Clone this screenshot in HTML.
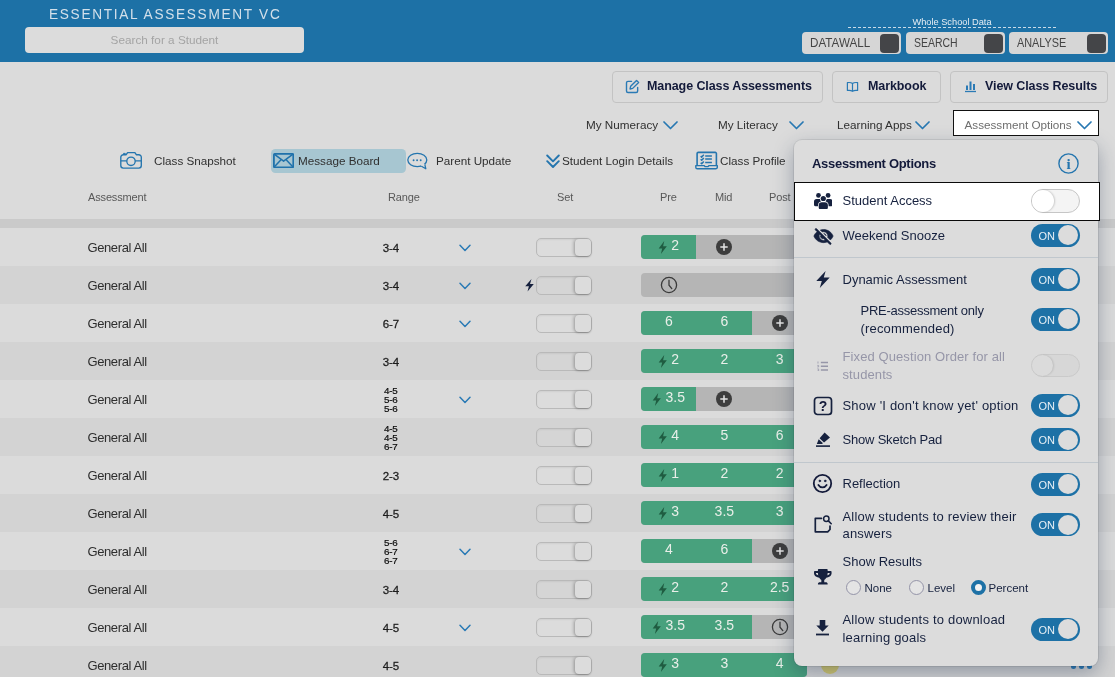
<!DOCTYPE html>
<html lang="en">
<head>
<meta charset="utf-8">
<title>Essential Assessment VC</title>
<style>
*{box-sizing:border-box}
html,body{margin:0;padding:0}
body{width:1115px;height:677px;overflow:hidden;position:relative;background:#dbdbdb;font-family:"Liberation Sans",Arial,sans-serif;color:#222}
.abs{position:absolute}
#hdr{position:absolute;left:0;top:0;width:1115px;height:62px;background:#1d71a6}
#title{position:absolute;left:48.500px;top:4px;font-size:15.400px;letter-spacing:1.900px;transform:scaleX(.888);transform-origin:0 50%;color:#d3e0ea;white-space:nowrap;line-height:20px;font-weight:400}
#search{position:absolute;left:25px;top:27px;width:279px;height:26px;background:#dcdcdc;border-radius:4px;text-align:center;font-size:11.750px;line-height:26px;color:#a4a4a4}
#wsd{position:absolute;left:848px;top:15px;width:208px;height:13px;border-bottom:1px dashed #c9dbe8;text-align:center;font-size:9.250px;line-height:15px;color:#e6eef4}
.hb{position:absolute;top:32px;height:22px;width:99px;background:#d6d6d6;border-radius:4px;font-size:12px;line-height:22px;color:#444;padding-left:7.700px}
.hb span{display:inline-block;transform:scaleX(.885);transform-origin:0 50%}
.hb i{position:absolute;right:2px;top:1.500px;width:19.200px;height:19px;background:#444548;border-radius:4px}
.btn{position:absolute;top:71px;height:32px;border:1px solid #c3c3c3;border-radius:4px;background:transparent;font-size:12.500px;letter-spacing:-.09px;font-weight:bold;color:#131a3a;line-height:29.500px;white-space:nowrap}
.btn svg{position:absolute;top:7px}
.btn span{position:absolute;top:0}
.nav{position:absolute;font-size:11.700px;color:#303030;white-space:nowrap;line-height:14px}
.navc{position:absolute;width:15px;height:9px}
#aobox{position:absolute;left:953px;top:110px;width:146px;height:26px;border:1px solid #111;background:#fff;z-index:5}
.th{position:absolute;top:190px;font-size:11px;letter-spacing:-.15px;color:#585858;line-height:14px;white-space:nowrap}
#band{position:absolute;left:0;top:219px;width:1115px;height:9px;background:#cacaca}
.row{position:absolute;left:0;width:1115px;height:38px;background:#dbdbdb}
.row.alt{background:#d3d3d3}
.aname{position:absolute;left:87.500px;top:12px;font-size:13px;letter-spacing:-.4px;line-height:15px;color:#2e2e2e;white-space:nowrap}
.rng{position:absolute;left:371px;width:40px;text-align:center;top:13px;font-size:11.500px;-webkit-text-stroke:.27px #1c1c1c;letter-spacing:-.1px;line-height:14px;color:#1c1c1c}
.rng3{position:absolute;left:370.800px;width:40px;text-align:center;top:5.600px;font-size:9.800px;letter-spacing:-.2px;-webkit-text-stroke:.2px #0c0c0c;line-height:9.100px;color:#0c0c0c}
.chev{position:absolute;left:458.700px;top:15.600px;width:12px;height:8px}
.tbolt{position:absolute;left:525px;top:13px;width:9px;height:12.500px;fill:#16213e}
.tog{position:absolute;left:536px;top:10px;width:56px;height:19px;border:1px solid #b9b9b9;border-radius:5px;background:rgba(255,255,255,.05);box-shadow:inset 0 1px 2px rgba(0,0,0,.06)}
.tog i{position:absolute;right:0;top:0;width:16.500px;height:17px;border-radius:4px;background:#dcdcdc;box-shadow:-1.500px 0 3px rgba(0,0,0,.17),0 1px 2px rgba(0,0,0,.22)}
.bar{position:absolute;left:641px;top:7px;width:166px;height:24px;border-radius:4px;background:#b5b5b5;overflow:hidden;display:flex}
.cell{height:24px;position:relative;display:flex;align-items:center;justify-content:center;flex:1 1 0;padding-left:.7px}
.cell.g{background:#48a17d}
.cell b{font-weight:normal;font-size:14px;color:#e9efe9;line-height:24px;position:relative;top:-2.300px}
.bolt{width:9.500px;height:13px;fill:#1f5c41;margin-right:4px;margin-left:-1px;position:relative;top:0}
.plus{width:16px;height:16px}
.clock{width:18px;height:18px}
.ydot{position:absolute;left:821px;top:10px;width:18px;height:18px;border-radius:50%;background:#d2c76e}
.dots{position:absolute;left:1070.500px;top:17.500px;display:flex;height:5px}
.dots i{display:block;width:5px;height:5px;border-radius:50%;background:#2a7ab5;margin-right:3px}
#panel{position:absolute;left:793.500px;top:139.500px;width:304.500px;height:526.500px;background:#dcdcdc;border-radius:8px;box-shadow:0 0 0 1px rgba(0,0,0,.07),0 7px 20px rgba(30,50,80,.36)}
#panel .pt{position:absolute;left:18.500px;top:16.500px;font-size:13px;letter-spacing:-.3px;font-weight:bold;color:#131a3a;line-height:16px}
.opt{position:absolute;left:49px;font-size:13px;color:#16213e;line-height:17.5px;white-space:nowrap}
.opt.dis{color:#9696a8}
.sw{position:absolute;left:237px;width:49px;height:23px;border-radius:12px;background:#1d71a6;color:#e8f0f6;font-size:11px;line-height:24.600px;padding-left:8px}
.sw i{position:absolute;right:1.600px;top:1.500px;width:20px;height:20px;border-radius:50%;background:#dcdcdc}
.sw.off{background:#f4f4f4;border:1px solid #c6c6c6;height:24px;border-radius:12px}
.sw.off i{left:0;top:0;right:auto;width:22px;height:22px;background:#fff;box-shadow:1px 0 2px rgba(0,0,0,.18)}
.sw.dis{background:#d7d7d7;border:1px solid #cacaca}
.sw.dis i{left:0;top:0;right:auto;width:21px;height:21px;background:#dbdbdb;box-shadow:1px 0 2px rgba(0,0,0,.12)}
.hr{position:absolute;left:0;width:304.500px;height:1px;background:#c0c7cd}
.ic{position:absolute;fill:#16213e}
#hl{position:absolute;left:0;top:42.100px;width:306px;height:39.300px;background:#fff;border:1.100px solid #0a0a0a}
.radio{position:absolute;top:440.400px;width:15px;height:15px;border-radius:50%;border:1.300px solid #9494a8;background:#e4e4e4}
.radio.on{border:4.400px solid #1d71a6;background:#f2f2f2}
.rl{position:absolute;top:441.200px;font-size:11.5px;color:#16213e;line-height:14px}
</style>
</head>
<body>
<div id="hdr">
  <div id="title">ESSENTIAL ASSESSMENT VC</div>
  <div id="search">Search for a Student</div>
  <div id="wsd">Whole School Data</div>
  <div class="hb" style="left:802px"><span style="transform:scaleX(.97)">DATAWALL</span><i></i></div>
  <div class="hb" style="left:906px"><span style="transform:scaleX(.873)">SEARCH</span><i></i></div>
  <div class="hb" style="left:1009px"><span style="transform:scaleX(.906)">ANALYSE</span><i></i></div>
</div>

<div class="btn" style="left:612px;width:211px">
  <svg style="left:12px" width="15" height="15" viewBox="0 0 16 16" fill="none" stroke="#2a7ab5" stroke-width="1.5" stroke-linecap="round" stroke-linejoin="round"><path d="M7 2.5H3.2C2.3 2.5 1.6 3.2 1.6 4.1v8.7c0 .9.7 1.6 1.600 1.600h8.700c.9 0 1.600-.7 1.600-1.600V9"/><path d="M12.300 1.500l2.200 2.200-6.300 6.300-2.800.6.600-2.800z"/></svg>
  <span style="left:34px">Manage Class Assessments</span>
</div>
<div class="btn" style="left:832px;width:109px">
  <svg style="left:13px;top:9px" width="13" height="12" viewBox="0 0 14 12" fill="none" stroke="#2a7ab5" stroke-width="1.300" stroke-linejoin="round"><path d="M7 2.300C5.800 1.300 3.500 1 1.500 1.300v8.400c2-.3 4.300 0 5.500 1 1.200-1 3.500-1.300 5.500-1V1.300C10.500 1 8.200 1.300 7 2.300zM7 2.300v8.400"/></svg>
  <span style="left:35px">Markbook</span>
</div>
<div class="btn" style="left:950px;width:158px">
  <svg style="left:13px;top:9px" width="13" height="12" viewBox="0 0 13 12"><path d="M1 10.500h11" stroke="#2a7ab5" stroke-width="1.300" fill="none"/><rect x="2" y="4.500" width="2" height="4.500" fill="#2a7ab5"/><rect x="5.500" y="0.500" width="2" height="8.500" fill="#2a7ab5"/><rect x="9" y="3" width="2" height="6" fill="#2a7ab5"/></svg>
  <span style="left:34px">View Class Results</span>
</div>

<div class="nav" style="left:586px;top:118px">My Numeracy</div>
<svg class="navc" style="left:663px;top:121px" viewBox="0 0 15 9"><path d="M1 1l6.500 6.500L14 1" fill="none" stroke="#2778b2" stroke-width="1.700" stroke-linecap="round" stroke-linejoin="round"/></svg>
<div class="nav" style="left:718px;top:118px">My Literacy</div>
<svg class="navc" style="left:789px;top:121px" viewBox="0 0 15 9"><path d="M1 1l6.500 6.500L14 1" fill="none" stroke="#2778b2" stroke-width="1.700" stroke-linecap="round" stroke-linejoin="round"/></svg>
<div class="nav" style="left:837px;top:118px">Learning Apps</div>
<svg class="navc" style="left:915px;top:121px" viewBox="0 0 15 9"><path d="M1 1l6.500 6.500L14 1" fill="none" stroke="#2778b2" stroke-width="1.700" stroke-linecap="round" stroke-linejoin="round"/></svg>
<div id="aobox"></div>
<div class="nav" style="left:964.500px;top:117.500px;color:#6e6e6e;z-index:6">Assessment Options</div>
<svg class="navc" style="left:1077px;top:120.500px;z-index:6" viewBox="0 0 15 9"><path d="M1 1l6.500 6.500L14 1" fill="none" stroke="#2778b2" stroke-width="1.700" stroke-linecap="round" stroke-linejoin="round"/></svg>

<!-- second nav row -->
<svg class="abs" style="left:119px;top:150px" width="25" height="21" viewBox="0 0 25 21" fill="none" stroke="#2475ae" stroke-width="1.350" stroke-linejoin="round"><path d="M4.300 4.700H7.200L8.600 2.600H15.900L17.300 4.700H19.800a2.500 2.500 0 0 1 2.500 2.500V15.600a2.500 2.500 0 0 1-2.500 2.500H4.300a2.500 2.500 0 0 1-2.500-2.500V7.200a2.500 2.500 0 0 1 2.500-2.500z"/><circle cx="12" cy="11.300" r="4.200"/><path d="M1.800 10.800H7.800M16.200 10.800H22.300"/><path d="M4.500 4.500V3.400H6.300V4.500" stroke-width="1"/></svg>
<div class="nav" style="left:154px;top:154px">Class Snapshot</div>
<div class="abs" style="left:270.800px;top:148.900px;width:134.900px;height:24px;background:#a7c6d1;border-radius:4.500px"></div>
<svg class="abs" style="left:273px;top:153px" width="21.200" height="15.200" viewBox="0 0 21.200 15.200" fill="none" stroke="#1f72ab" stroke-width="1.800" stroke-linejoin="round"><rect x="0.900" y="0.900" width="19.400" height="13.400" rx=".8"/><path d="M1.200 1.200l9.400 7 9.400-7M1.200 14l6.800-7.300M20 14l-6.800-7.300" stroke-width="1.500"/></svg>
<div class="nav" style="left:298px;top:154px">Message Board</div>
<svg class="abs" style="left:406px;top:151px" width="23" height="19" viewBox="0 0 23 19" fill="none" stroke="#2475ae" stroke-width="1.300" stroke-linejoin="round"><ellipse cx="11.300" cy="9" rx="9.500" ry="6.600"/><path d="M14.600 14.800L19.800 17.700L18.700 13.200" fill="#dcdcdc"/><path d="M15.200 14.300L18.300 13.100" stroke="#dcdcdc" stroke-width="1.800"/><circle cx="7.600" cy="9.300" r=".95" fill="#2475ae" stroke="none"/><circle cx="11.100" cy="9.300" r=".95" fill="#2475ae" stroke="none"/><circle cx="14.700" cy="9.300" r=".95" fill="#2475ae" stroke="none"/></svg>
<div class="nav" style="left:436px;top:154px">Parent Update</div>
<svg class="abs" style="left:545.500px;top:153.500px" width="14" height="15" viewBox="0 0 14 15" fill="none" stroke="#2475ae" stroke-width="1.900" stroke-linecap="round" stroke-linejoin="round"><path d="M1.200 1.500l5.800 5.800 5.800-5.800M1.200 7.200l5.800 5.800 5.800-5.800"/></svg>
<div class="nav" style="left:562px;top:154px">Student Login Details</div>
<svg class="abs" style="left:694px;top:150px" width="25" height="21" viewBox="0 0 25 21" fill="none" stroke="#2475ae" stroke-width="1.600" stroke-linejoin="round"><path d="M3.100 15.400V3.600a1.200 1.200 0 0 1 1.200-1.200H21.200a1.200 1.200 0 0 1 1.200 1.200V15.400"/><path d="M1.800 15.600H10l1 1h3.100l1-1H23.300v1.600a1.600 1.600 0 0 1-1.600 1.600H3.400a1.600 1.600 0 0 1-1.600-1.600z" stroke-width="1.400"/><path d="M6.700 6.1l1 1 2.100-2.300M11.200 5.9H17.900M6.700 9.3l1 1 2.100-2.300M11.200 9.1H17.900M6.700 12.8l1 1 2.100-2.300M11.200 12.6H17.900" stroke-width="1.500"/></svg>
<div class="nav" style="left:720px;top:154px">Class Profile</div>

<!-- table header -->
<div class="th" style="left:88px">Assessment</div>
<div class="th" style="left:388px">Range</div>
<div class="th" style="left:557px">Set</div>
<div class="th" style="left:660px">Pre</div>
<div class="th" style="left:715px">Mid</div>
<div class="th" style="left:769px">Post</div>
<div id="band"></div>

<div class="row" style="top:228px"><span class="aname">General All</span><span class="rng">3-4</span><svg class="chev" viewBox="0 0 12 8"><path d="M1 1.2 L6 6.4 L11 1.2" fill="none" stroke="#2a7ab5" stroke-width="1.5" stroke-linecap="round" stroke-linejoin="round"/></svg><span class="tog"><i></i></span><span class="bar"><span class="cell g"><svg class="bolt" viewBox="0 0 10 14"><path d="M6.6 0 L0.6 8 L4.4 8 L3 14 L9.4 5.6 L5.4 5.6 Z"/></svg><b>2</b></span><span class="cell"><svg class="plus" viewBox="0 0 16 16"><circle cx="8" cy="8" r="8" fill="#3d3d3d"/><path d="M8 4.3v7.4M4.3 8h7.4" stroke="#e4e4e4" stroke-width="1.5" fill="none"/></svg></span><span class="cell"></span></span></div>
<div class="row alt" style="top:266px"><span class="aname">General All</span><span class="rng">3-4</span><svg class="chev" viewBox="0 0 12 8"><path d="M1 1.2 L6 6.4 L11 1.2" fill="none" stroke="#2a7ab5" stroke-width="1.5" stroke-linecap="round" stroke-linejoin="round"/></svg><svg class="tbolt" viewBox="0 0 10 14"><path d="M7.200 0 L0.200 8.200 L4.300 8.200 L2.800 14 L9.800 5.500 L5.600 5.500 Z"/></svg><span class="tog"><i></i></span><span class="bar"><span class="cell"><svg class="clock" viewBox="0 0 18 18"><circle cx="9" cy="9" r="7.6" fill="none" stroke="#3a3a3a" stroke-width="1.3"/><path d="M9 4.2V9.2L11.8 12.6" fill="none" stroke="#3a3a3a" stroke-width="1.3" stroke-linecap="round"/></svg></span><span class="cell"></span><span class="cell"></span></span></div>
<div class="row" style="top:304px"><span class="aname">General All</span><span class="rng">6-7</span><svg class="chev" viewBox="0 0 12 8"><path d="M1 1.2 L6 6.4 L11 1.2" fill="none" stroke="#2a7ab5" stroke-width="1.5" stroke-linecap="round" stroke-linejoin="round"/></svg><span class="tog"><i></i></span><span class="bar"><span class="cell g"><b>6</b></span><span class="cell g"><b>6</b></span><span class="cell"><svg class="plus" viewBox="0 0 16 16"><circle cx="8" cy="8" r="8" fill="#3d3d3d"/><path d="M8 4.3v7.4M4.3 8h7.4" stroke="#e4e4e4" stroke-width="1.5" fill="none"/></svg></span></span></div>
<div class="row alt" style="top:342px"><span class="aname">General All</span><span class="rng">3-4</span><span class="tog"><i></i></span><span class="bar"><span class="cell g"><svg class="bolt" viewBox="0 0 10 14"><path d="M6.6 0 L0.6 8 L4.4 8 L3 14 L9.4 5.6 L5.4 5.6 Z"/></svg><b>2</b></span><span class="cell g"><b>2</b></span><span class="cell g"><b>3</b></span></span></div>
<div class="row" style="top:380px"><span class="aname">General All</span><span class="rng3">4-5<br>5-6<br>5-6</span><svg class="chev" viewBox="0 0 12 8"><path d="M1 1.2 L6 6.4 L11 1.2" fill="none" stroke="#2a7ab5" stroke-width="1.5" stroke-linecap="round" stroke-linejoin="round"/></svg><span class="tog"><i></i></span><span class="bar"><span class="cell g"><svg class="bolt" viewBox="0 0 10 14"><path d="M6.6 0 L0.6 8 L4.4 8 L3 14 L9.4 5.6 L5.4 5.6 Z"/></svg><b>3.5</b></span><span class="cell"><svg class="plus" viewBox="0 0 16 16"><circle cx="8" cy="8" r="8" fill="#3d3d3d"/><path d="M8 4.3v7.4M4.3 8h7.4" stroke="#e4e4e4" stroke-width="1.5" fill="none"/></svg></span><span class="cell"></span></span></div>
<div class="row alt" style="top:418px"><span class="aname">General All</span><span class="rng3">4-5<br>4-5<br>6-7</span><span class="tog"><i></i></span><span class="bar"><span class="cell g"><svg class="bolt" viewBox="0 0 10 14"><path d="M6.6 0 L0.6 8 L4.4 8 L3 14 L9.4 5.6 L5.4 5.6 Z"/></svg><b>4</b></span><span class="cell g"><b>5</b></span><span class="cell g"><b>6</b></span></span></div>
<div class="row" style="top:456px"><span class="aname">General All</span><span class="rng">2-3</span><span class="tog"><i></i></span><span class="bar"><span class="cell g"><svg class="bolt" viewBox="0 0 10 14"><path d="M6.6 0 L0.6 8 L4.4 8 L3 14 L9.4 5.6 L5.4 5.6 Z"/></svg><b>1</b></span><span class="cell g"><b>2</b></span><span class="cell g"><b>2</b></span></span></div>
<div class="row alt" style="top:494px"><span class="aname">General All</span><span class="rng">4-5</span><span class="tog"><i></i></span><span class="bar"><span class="cell g"><svg class="bolt" viewBox="0 0 10 14"><path d="M6.6 0 L0.6 8 L4.4 8 L3 14 L9.4 5.6 L5.4 5.6 Z"/></svg><b>3</b></span><span class="cell g"><b>3.5</b></span><span class="cell g"><b>3</b></span></span></div>
<div class="row" style="top:532px"><span class="aname">General All</span><span class="rng3">5-6<br>6-7<br>6-7</span><svg class="chev" viewBox="0 0 12 8"><path d="M1 1.2 L6 6.4 L11 1.2" fill="none" stroke="#2a7ab5" stroke-width="1.5" stroke-linecap="round" stroke-linejoin="round"/></svg><span class="tog"><i></i></span><span class="bar"><span class="cell g"><b>4</b></span><span class="cell g"><b>6</b></span><span class="cell"><svg class="plus" viewBox="0 0 16 16"><circle cx="8" cy="8" r="8" fill="#3d3d3d"/><path d="M8 4.3v7.4M4.3 8h7.4" stroke="#e4e4e4" stroke-width="1.5" fill="none"/></svg></span></span></div>
<div class="row alt" style="top:570px"><span class="aname">General All</span><span class="rng">3-4</span><span class="tog"><i></i></span><span class="bar"><span class="cell g"><svg class="bolt" viewBox="0 0 10 14"><path d="M6.6 0 L0.6 8 L4.4 8 L3 14 L9.4 5.6 L5.4 5.6 Z"/></svg><b>2</b></span><span class="cell g"><b>2</b></span><span class="cell g"><b>2.5</b></span></span></div>
<div class="row" style="top:608px"><span class="aname">General All</span><span class="rng">4-5</span><svg class="chev" viewBox="0 0 12 8"><path d="M1 1.2 L6 6.4 L11 1.2" fill="none" stroke="#2a7ab5" stroke-width="1.5" stroke-linecap="round" stroke-linejoin="round"/></svg><span class="tog"><i></i></span><span class="bar"><span class="cell g"><svg class="bolt" viewBox="0 0 10 14"><path d="M6.6 0 L0.6 8 L4.4 8 L3 14 L9.4 5.6 L5.4 5.6 Z"/></svg><b>3.5</b></span><span class="cell g"><b>3.5</b></span><span class="cell"><svg class="clock" viewBox="0 0 18 18"><circle cx="9" cy="9" r="7.6" fill="none" stroke="#3a3a3a" stroke-width="1.3"/><path d="M9 4.2V9.2L11.8 12.6" fill="none" stroke="#3a3a3a" stroke-width="1.3" stroke-linecap="round"/></svg></span></span></div>
<div class="row alt" style="top:646px"><span class="aname">General All</span><span class="rng">4-5</span><span class="tog"><i></i></span><span class="bar"><span class="cell g"><svg class="bolt" viewBox="0 0 10 14"><path d="M6.6 0 L0.6 8 L4.4 8 L3 14 L9.4 5.6 L5.4 5.6 Z"/></svg><b>3</b></span><span class="cell g"><b>3</b></span><span class="cell g"><b>4</b></span></span><span class="ydot"></span><span class="dots"><i></i><i></i><i></i></span></div>

<div id="panel">
  <div class="pt">Assessment Options</div>
  <svg class="abs" style="left:264.500px;top:13.500px" width="21" height="21" viewBox="0 0 21 21"><circle cx="10.500" cy="10.500" r="9.600" fill="none" stroke="#2475ae" stroke-width="1.400"/><text x="10.500" y="15.600" text-anchor="middle" font-family="Liberation Serif, serif" font-weight="bold" font-size="15" fill="#2475ae">i</text></svg>
  <div id="hl"></div>

  <!-- Student Access : users -->
  <svg class="ic" style="left:20.100px;top:53.100px" width="18.600" height="16.200" viewBox="0 0 18.600 16.200"><circle cx="4.500" cy="2.400" r="2.400"/><circle cx="14.100" cy="2.400" r="2.400"/><path d="M0 8.700a2.600 2.600 0 0 1 2.600-2.600h3.400l1 2-1 5.200H1.600A1.600 1.600 0 0 1 0 11.700z"/><path d="M18.600 8.700a2.600 2.600 0 0 0-2.600-2.600h-3.400l-1 2 1 5.200h4.400a1.600 1.600 0 0 0 1.600-1.600z"/><circle cx="9.300" cy="5.500" r="3.300" fill="#fff"/><path d="M4.700 12.300a3.100 3.100 0 0 1 3.100-3.100h3a3.100 3.100 0 0 1 3.100 3.100v2.300a1.600 1.600 0 0 1-1.600 1.600H6.300a1.600 1.600 0 0 1-1.600-1.600z" fill="#fff" stroke="#fff" stroke-width="1.400"/><circle cx="9.300" cy="5.500" r="2.600"/><path d="M4.700 12.300a3.100 3.100 0 0 1 3.100-3.100h3a3.100 3.100 0 0 1 3.100 3.100v2.300a1.600 1.600 0 0 1-1.600 1.600H6.300a1.600 1.600 0 0 1-1.600-1.600z"/></svg>
  <div class="opt" style="top:52.200px">Student Access</div>
  <div class="sw off" style="top:49.100px"><i></i></div>

  <!-- Weekend Snooze : eye-slash -->
  <svg class="ic" style="left:19px;top:86px" width="21" height="21" viewBox="0 0 24 24" stroke="#16213e" stroke-width=".7"><path d="M12 6.500c2.760 0 5 2.240 5 5 0 .51-.1 1-.24 1.460l3.060 3.060c1.390-1.230 2.490-2.770 3.180-4.530C21.270 7.110 17 4 12 4c-1.270 0-2.490.2-3.640.57l2.170 2.170c.47-.14.960-.24 1.470-.24zM2.710 3.160c-.39.390-.39 1.020 0 1.410l1.970 1.970C3.060 7.830 1.770 9.530 1 11.500 2.730 15.890 7 19 12 19c1.520 0 2.970-.3 4.310-.82l2.720 2.720c.39.390 1.020.39 1.410 0 .39-.39.39-1.020 0-1.410L4.130 3.160c-.39-.39-1.030-.39-1.420 0zM12 16.500c-2.760 0-5-2.240-5-5 0-.77.180-1.500.49-2.140l1.570 1.570c-.3.180-.6.370-.6.570 0 1.660 1.340 3 3 3 .2 0 .38-.3.570-.07L14.140 16c-.65.320-1.370.5-2.140.5zm2.970-5.330c-.15-1.400-1.250-2.490-2.640-2.640l2.640 2.640z"/></svg>
  <div class="opt" style="top:87.200px">Weekend Snooze</div>
  <div class="sw" style="top:84.100px">ON<i></i></div>

  <div class="hr" style="top:117.500px"></div>

  <!-- Dynamic Assessment : bolt -->
  <svg class="ic" style="left:22px;top:131.500px" width="14" height="17" viewBox="0 0 14 17"><path d="M9.600 0 L0.300 10 L5.800 10 L3.800 17 L13.700 6.400 L7.800 6.400 Z"/></svg>
  <div class="opt" style="top:131.500px">Dynamic Assessment</div>
  <div class="sw" style="top:128.100px">ON<i></i></div>

  <div class="opt" style="left:67px;top:162.200px;line-height:18px"><span style="letter-spacing:-.25px">PRE-assessment only</span><br><span style="letter-spacing:.18px">(recommended)</span></div>
  <div class="sw" style="top:168.300px">ON<i></i></div>

  <!-- Fixed order : list-ol -->
  <svg class="abs" style="left:23px;top:221px" width="11.500" height="10.500" viewBox="0 0 12 11" fill="none" stroke="#9696a8" stroke-width="1.500"><path d="M4 1.500h7.500M4 5.500h7.500M4 9.500h7.500"/><path d="M1 0.500v2.200M0.300 4.600h1.400v1.600h-1.400M0.300 8.300h1.400v2.200h-1.400" stroke-width=".8"/></svg>
  <div class="opt dis" style="top:208px;line-height:18px;letter-spacing:.1px">Fixed Question Order for all<br>students</div>
  <div class="sw dis" style="top:214.500px"><i></i></div>

  <!-- I don't know yet -->
  <svg class="abs" style="left:19px;top:256px" width="20" height="20" viewBox="0 0 20 20"><rect x="1.500" y="1.500" width="17" height="17" rx="3" fill="none" stroke="#16213e" stroke-width="1.700"/><text x="10" y="15.200" text-anchor="middle" font-family="Liberation Sans, sans-serif" font-weight="bold" font-size="14" fill="#131a3a">?</text></svg>
  <div class="opt" style="top:257.500px;letter-spacing:.2px">Show 'I don't know yet' option</div>
  <div class="sw" style="top:254.400px">ON<i></i></div>

  <!-- Sketch pad : eraser -->
  <svg class="ic" style="left:21.800px;top:292px" width="16" height="16" viewBox="0 0 16 16"><path d="M9.600 0.400 L15 5.600 L9 10.500 L4.600 6.300 Z"/><path d="M3.700 7.200 L8 11.300 L6.800 12 L1.800 12 Z"/><rect x="1" y="13.300" width="14" height="1.600"/></svg>
  <div class="opt" style="top:291.500px;letter-spacing:-.2px">Show Sketch Pad</div>
  <div class="sw" style="top:288.500px">ON<i></i></div>

  <div class="hr" style="top:322px"></div>

  <!-- Reflection : smiley -->
  <svg class="abs" style="left:18.500px;top:333.500px" width="21" height="21" viewBox="0 0 21 21" fill="none" stroke="#131a3a" stroke-width="1.800" stroke-linecap="round"><circle cx="10.500" cy="10.500" r="8.700"/><path d="M6.400 12c.9 1.500 2.400 2.300 4.100 2.300s3.200-.8 4.100-2.300"/><circle cx="7.800" cy="7.900" r=".9" fill="#131a3a" stroke-width=".6"/><circle cx="13.200" cy="7.900" r=".9" fill="#131a3a" stroke-width=".6"/></svg>
  <div class="opt" style="top:335.500px">Reflection</div>
  <div class="sw" style="top:333px">ON<i></i></div>

  <!-- Review : note with magnifier -->
  <svg class="abs" style="left:19px;top:374px" width="20" height="20" viewBox="0 0 20 20" fill="none" stroke="#16213e" stroke-width="1.700" stroke-linejoin="round" stroke-linecap="round"><path d="M8.500 4.300H2.300v13.500h12.400l2.300-2.300V12"/><circle cx="13.300" cy="4.800" r="2.700" stroke-width="1.500"/><path d="M15.400 6.900l2.800 2.800" stroke-width="1.600"/></svg>
  <div class="opt" style="top:368px;letter-spacing:.19px">Allow students to review their<br>answers</div>
  <div class="sw" style="top:373.500px">ON<i></i></div>

  <!-- Show results : trophy -->
  <svg class="ic" style="left:20.600px;top:429.500px" width="17.600" height="15.600" viewBox="0 0 576 512"><path d="M552 64H448V24c0-13.300-10.700-24-24-24H152c-13.300 0-24 10.700-24 24v40H24C10.700 64 0 74.700 0 88v56c0 35.700 22.500 72.400 61.900 100.700 31.500 22.700 69.800 37.100 110 41.700C203.300 338.500 240 360 240 360v72h-48c-35.300 0-64 20.700-64 56v12c0 6.600 5.400 12 12 12h296c6.600 0 12-5.400 12-12v-12c0-35.300-28.700-56-64-56h-48v-72s36.700-21.500 68.100-73.600c40.300-4.600 78.600-19 110-41.700 39.300-28.300 61.900-65 61.900-100.700V88c0-13.300-10.700-24-24-24zM99.300 192.800C74.900 175.200 64 155.600 64 144v-16h64.200c1 32.600 5.800 61.200 12.800 86.200-15.100-5.200-29.200-12.400-41.700-21.400zM512 144c0 16.100-17.700 36.100-35.300 48.800-12.500 9-26.700 16.200-41.800 21.400 7-25 11.800-53.600 12.800-86.200H512v16z"/></svg>
  <div class="opt" style="top:413.700px">Show Results</div>
  <span class="radio" style="left:52px"></span><span class="rl" style="left:71px">None</span>
  <span class="radio" style="left:115px"></span><span class="rl" style="left:134px">Level</span>
  <span class="radio on" style="left:177px"></span><span class="rl" style="left:195px">Percent</span>

  <!-- Download -->
  <svg class="ic" style="left:22.300px;top:480.500px" width="13" height="16" viewBox="0 0 13 16"><path d="M3.700 0h5.600v5.500h3.400L6.500 11.700 0.300 5.500H3.700z"/><rect x="0" y="13.600" width="13" height="1.800"/></svg>
  <div class="opt" style="top:471.500px;letter-spacing:.2px">Allow students to download<br>learning goals</div>
  <div class="sw" style="top:478px">ON<i></i></div>
</div>

</body>
</html>
